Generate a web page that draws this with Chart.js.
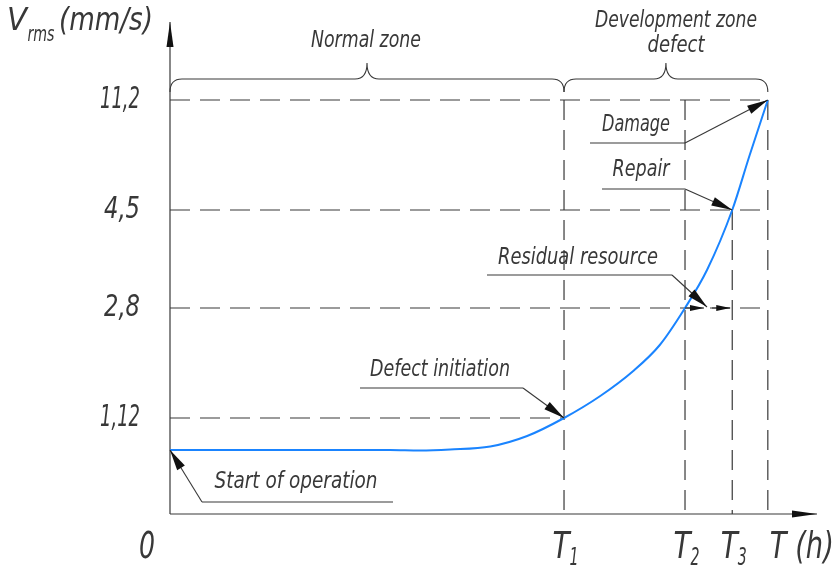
<!DOCTYPE html>
<html>
<head>
<meta charset="utf-8">
<script src="https://cdn.jsdelivr.net/npm/chart.js@4/dist/chart.umd.min.js"></script>
<style>
  html, body { margin: 0; padding: 0; background: #fff; }
  #wrap { width: 838px; height: 568px; }
</style>
</head>
<body>
<div id="wrap"><canvas id="diagram" width="838" height="568"></canvas></div>
<script>
// schematic levels of the vibration axis (not to scale in the drawing)
var levelLabels = ['1,12', '2,8', '4,5', '11,2'];
var levelPos = [0.96, 2.06, 3.04, 4.14];

// time marks on the T axis
var timeNames = ['0', 'T', 'T', 'T', 'T (h)'];
var timeSubs = ['', '1', '2', '3', ''];
var timePos = [0, 60.9, 79.6, 86.9, 92.4];

// Vrms curve (time, schematic level)
var curveT = [0, 20.1, 34.0, 38.6, 43.3, 49.5, 55.2, 60.9, 66.5, 71.6, 75.7, 79.6, 83.0, 86.9, 89.6, 92.4];
var curveV = [0.64, 0.64, 0.64, 0.635, 0.645, 0.675, 0.78, 0.96, 1.18, 1.43, 1.69, 2.06, 2.44, 3.04, 3.59, 4.14];

var FONT = '"Liberation Sans Narrow", "DejaVu Sans Condensed", "Liberation Sans", sans-serif';
var INK = '#383838';

function txt(ctx, s, x, y, size, align, width) {
    ctx.save();
    ctx.font = 'italic ' + size + 'px ' + FONT;
    ctx.fillStyle = INK;
    ctx.textBaseline = 'middle';
    var w = ctx.measureText(s).width;
    ctx.translate(x, y);
    if (width) ctx.scale(width / w, 1);
    ctx.textAlign = align || 'center';
    ctx.fillText(s, 0, 0);
    ctx.restore();
}

function line(ctx, x1, y1, x2, y2) {
    ctx.beginPath();
    ctx.moveTo(x1, y1);
    ctx.lineTo(x2, y2);
    ctx.stroke();
}

function arrow(ctx, x1, y1, x2, y2, len, half) {
    line(ctx, x1, y1, x2, y2);
    var a = Math.atan2(y2 - y1, x2 - x1);
    var bx = x2 - len * Math.cos(a), by = y2 - len * Math.sin(a);
    ctx.beginPath();
    ctx.moveTo(x2, y2);
    ctx.lineTo(bx + half * Math.sin(a), by - half * Math.cos(a));
    ctx.lineTo(bx - half * Math.sin(a), by + half * Math.cos(a));
    ctx.closePath();
    ctx.fill();
}

function brace(ctx, x1, x2, yb, ye, yp) {
    var xm = (x1 + x2) / 2, r = 12;
    ctx.beginPath();
    ctx.moveTo(x1, ye);
    ctx.quadraticCurveTo(x1, yb, x1 + r, yb);
    ctx.lineTo(xm - r, yb);
    ctx.quadraticCurveTo(xm, yb, xm, yp);
    ctx.quadraticCurveTo(xm, yb, xm + r, yb);
    ctx.lineTo(x2 - r, yb);
    ctx.quadraticCurveTo(x2, yb, x2, ye);
    ctx.stroke();
}

var diagramPlugin = {
    id: 'diagram',
    beforeDatasetsDraw: function (chart) {
        var ctx = chart.ctx, xs = chart.scales.x, ys = chart.scales.y, area = chart.chartArea;
        var x0 = xs.getPixelForValue(0), y0 = ys.getPixelForValue(0);
        ctx.save();
        ctx.strokeStyle = INK;
        ctx.lineWidth = 1.2;
        ctx.setLineDash([20, 10]);
        // horizontal level lines
        levelPos.forEach(function (v, i) {
            var xe = i === 0 ? xs.getPixelForValue(timePos[1]) : xs.getPixelForValue(timePos[4]);
            var y = ys.getPixelForValue(v);
            line(ctx, x0, y, xe, y);
        });
        // vertical time lines
        var tops = [levelPos[3], levelPos[3], levelPos[2], levelPos[3]];
        for (var i = 1; i < timePos.length; i++) {
            var x = xs.getPixelForValue(timePos[i]);
            line(ctx, x, ys.getPixelForValue(tops[i - 1]), x, y0);
        }
        ctx.setLineDash([]);
        // axes with arrows
        ctx.fillStyle = '#111';
        arrow(ctx, x0, y0, x0, area.top, 25, 3.5);
        arrow(ctx, x0, y0, area.right, y0, 25, 3.5);
        ctx.restore();
    },
    afterDatasetsDraw: function (chart) {
        var ctx = chart.ctx, xs = chart.scales.x, ys = chart.scales.y;
        var px = function (t) { return xs.getPixelForValue(t); };
        var py = function (v) { return ys.getPixelForValue(v); };
        ctx.save();
        ctx.strokeStyle = INK;
        ctx.fillStyle = '#111';
        ctx.lineWidth = 1.1;

        // axis title
        txt(ctx, 'V', 17, 22, 32, 'center', 20);
        txt(ctx, 'rms', 41, 36, 21, 'center', 27);
        txt(ctx, '(mm/s)', 106, 22, 32, 'center', 94);

        // level tick labels
        levelLabels.forEach(function (s, i) {
            txt(ctx, s, 140, py(levelPos[i]), 31, 'right', s.length > 3 ? 40 : 36);
        });

        // time labels
        timeNames.forEach(function (s, i) {
            var x = px(timePos[i]);
            if (i === 0) {
                txt(ctx, s, 147, 548, 38, 'center', 16);
            } else if (i === timePos.length - 1) {
                txt(ctx, s, x + 2, 548, 38, 'left', 64);
            } else {
                txt(ctx, s, x - 3, 548, 38, 'center', 17);
                txt(ctx, timeSubs[i], x + 10, 559, 24, 'center', 9);
            }
        });

        // zone braces
        brace(ctx, px(0), px(timePos[1]), 79, 92, 63);
        brace(ctx, px(timePos[1]), px(timePos[4]), 79, 92, 63);
        txt(ctx, 'Normal zone', 366, 41, 23, 'center', 110);
        txt(ctx, 'Development zone', 676, 21, 23, 'center', 162);
        txt(ctx, 'defect', 676, 46, 23, 'center', 57);

        // leaders
        txt(ctx, 'Damage', 636, 125, 23, 'center', 68);
        line(ctx, 590, 143, 685, 143);
        arrow(ctx, 685, 143, px(timePos[4]), py(levelPos[3]), 21, 4.5);

        txt(ctx, 'Repair', 641, 170, 23, 'center', 57);
        line(ctx, 602, 189, 685, 189);
        arrow(ctx, 685, 189, px(timePos[3]), py(levelPos[2]), 21, 4.5);

        txt(ctx, 'Residual resource', 578, 258, 23, 'center', 160);
        line(ctx, 487, 275, 672, 275);
        arrow(ctx, 672, 275, 707, py(levelPos[1]) - 1, 21, 4.5);
        arrow(ctx, px(timePos[2]), py(levelPos[1]), 704, py(levelPos[1]), 14, 3);
        arrow(ctx, 712, py(levelPos[1]), px(timePos[3]) - 2, py(levelPos[1]), 14, 3);

        txt(ctx, 'Defect initiation', 440, 370, 23, 'center', 140);
        line(ctx, 360, 388, 523, 388);
        arrow(ctx, 523, 388, px(timePos[1]), py(levelPos[0]), 21, 4.5);

        txt(ctx, 'Start of operation', 296, 482, 23, 'center', 163);
        line(ctx, 202, 502, 393, 502);
        arrow(ctx, 202, 502, px(curveT[0]), py(curveV[0]), 21, 4.5);

        ctx.restore();
    }
};

var ctx = document.getElementById('diagram').getContext('2d');
var chart = new Chart(ctx, {
    type: 'scatter',
    data: {
        datasets: [{
            label: 'Vrms',
            data: curveT.map(function (t, i) { return { x: t, y: curveV[i] }; }),
            showLine: true,
            borderColor: '#1a84ff',
            borderWidth: 2,
            pointRadius: 0,
            cubicInterpolationMode: 'monotone',
            clip: false
        }]
    },
    options: {
        responsive: false,
        animation: false,
        layout: {
            padding: { left: 170, right: 21, top: 22, bottom: 54 }
        },
        scales: {
            x: { type: 'linear', min: 0, max: 100, display: false },
            y: { type: 'linear', min: 0, max: 4.92, display: false }
        },
        plugins: {
            legend: { display: false },
            tooltip: { enabled: false }
        }
    },
    plugins: [diagramPlugin]
});
</script>
</body>
</html>
